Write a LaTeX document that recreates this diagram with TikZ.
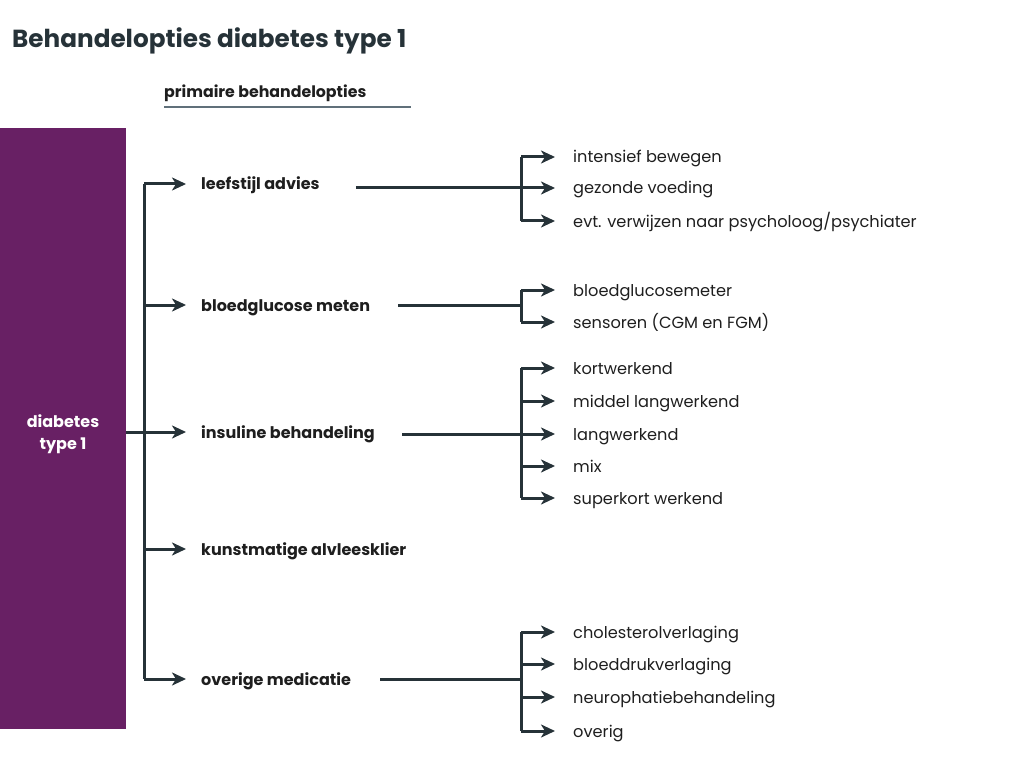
\documentclass[tikz,border=0pt]{standalone}
\usepackage{fontspec}
\setmainfont{Poppins}
\usepackage{xcolor}
\usepackage{tikz}
\usetikzlibrary{arrows.meta}

\definecolor{slate}{RGB}{38,50,56}
\definecolor{inkt}{RGB}{30,30,30}
\definecolor{paars}{RGB}{104,32,100}
\definecolor{grijs}{RGB}{96,112,122}

\begin{document}
\begin{tikzpicture}[x=1pt,y=-1pt,
    lijn/.style={line width=3pt, draw=slate},
    pijl/.style={lijn, -{Stealth[length=14pt,width=13pt,inset=4pt]}},
    hoofd/.style={anchor=west, inner sep=0pt, text=inkt, font=\fontsize{16}{19}\selectfont\bfseries, text height=14pt, text depth=2pt},
    sub/.style={anchor=west, inner sep=0pt, text=inkt, font=\fontsize{16.2}{19}\selectfont, text height=14pt, text depth=2pt}]
        \useasboundingbox (0,0) rectangle (1024,759);
        \coordinate (trunk) at (144,0);
        \coordinate (split) at (521,0);

        % titel en kop
        \node[anchor=base west, inner sep=0pt, text=slate, font=\fontsize{24.7}{30}\selectfont\bfseries] (titel) at (12,48) {Behandelopties diabetes type 1};
        \node[anchor=base west, inner sep=0pt, text=inkt, font=\fontsize{15.8}{19}\selectfont\bfseries] (kop) at (164,98) {primaire behandelopties};
        \draw[grijs, line width=2pt] (164,107) -- (411,107);

        % diabetes type 1
        \node[fill=paars, minimum width=126pt, minimum height=601pt, inner sep=0pt] (dm) at (63,428.5) {};
        \node[text=white, align=center, inner sep=0pt, font=\fontsize{16}{22}\selectfont\bfseries] (dmtekst) at (63,434) {diabetes\\type 1};

        % primaire behandelopties
        \node[hoofd] (leef) at (201,184) {leefstijl advies};
        \node[hoofd] (bloed) at (201,305) {bloedglucose meten};
        \node[hoofd] (ins) at (201,432) {insuline behandeling};
        \node[hoofd] (kunst) at (201,549) {kunstmatige alvleesklier};
        \node[hoofd] (over) at (201,679) {overige medicatie};

        \draw[lijn] (leef.west -| trunk) -- (over.west -| trunk);
        \draw[lijn] (dm.east |- ins.west) -- (ins.west -| trunk);
        \foreach \h in {leef,bloed,ins,kunst,over}
            \draw[pijl] (\h.west -| trunk) -- ([xshift=-15pt]\h.west);

        % leefstijl advies
        \node[sub] (l1) at (573,157) {intensief bewegen};
        \node[sub] (l2) at (573,188) {gezonde voeding};
        \node[sub] (l3) at (573,221) {evt. verwijzen naar psycholoog/psychiater};
        \draw[lijn] ([xshift=36pt]leef.east |- l2.west) -- (l2.west -| split);
        \draw[lijn] (l1.west -| split) -- (l3.west -| split);

        % bloedglucose meten
        \node[sub] (b1) at (573,290) {bloedglucosemeter};
        \node[sub] (b2) at (573,322) {sensoren (CGM en FGM)};
        \draw[lijn] ([xshift=28pt]bloed.east) -- (bloed.east -| split);
        \draw[lijn] (b1.west -| split) -- (b2.west -| split);

        % insuline behandeling
        \node[sub] (i1) at (573,368) {kortwerkend};
        \node[sub] (i2) at (573,401) {middel langwerkend};
        \node[sub] (i3) at (573,434) {langwerkend};
        \node[sub] (i4) at (573,466) {mix};
        \node[sub] (i5) at (573,498) {superkort werkend};
        \draw[lijn] ([xshift=27pt]ins.east |- i3.west) -- (i3.west -| split);
        \draw[lijn] (i1.west -| split) -- (i5.west -| split);

        % overige medicatie
        \node[sub] (o1) at (573,632) {cholesterolverlaging};
        \node[sub] (o2) at (573,664) {bloeddrukverlaging};
        \node[sub] (o3) at (573,697) {neurophatiebehandeling};
        \node[sub] (o4) at (573,731) {overig};
        \draw[lijn] ([xshift=29pt]over.east) -- (over.east -| split);
        \draw[lijn] (o1.west -| split) -- (o4.west -| split);

        \foreach \s in {l1,l2,l3,b1,b2,i1,i2,i3,i4,i5,o1,o2,o3,o4}
            \draw[pijl] (\s.west -| split) -- ([xshift=-18pt]\s.west);
\end{tikzpicture}
\end{document}
